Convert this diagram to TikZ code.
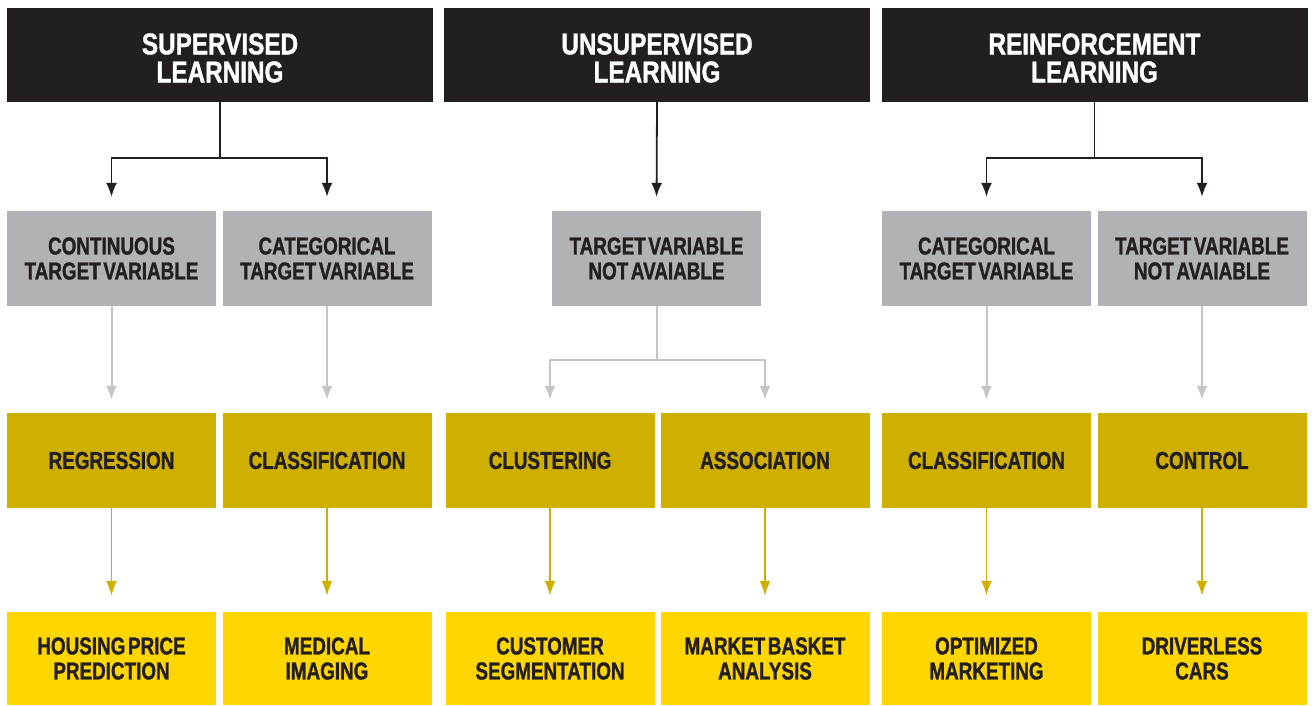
\documentclass[tikz,border=0pt]{standalone}
\usepackage{fontspec}
\setmainfont{Liberation Sans}[FakeStretch=0.77,WordSpace=0.5,BoldFeatures={FakeBold=1.2}]
\newfontfamily\titlefont{Liberation Sans}[FakeStretch=0.81,WordSpace=0.5,BoldFeatures={FakeBold=1.2}]
\usetikzlibrary{arrows.meta}
\definecolor{ink}{HTML}{231F20}
\definecolor{graybox}{HTML}{B1B2B5}
\definecolor{mustard}{HTML}{CFB000}
\definecolor{yell}{HTML}{FFD600}
\definecolor{grayline}{HTML}{C4C5C8}
\tikzset{
  x=1pt,y=-1pt,
  box/.style={rectangle,inner sep=0pt,align=center,text=ink,
    font=\fontsize{24.5}{25}\selectfont\bfseries},
  titlebox/.style={rectangle,inner sep=0pt,fill=ink,minimum width=426pt,minimum height=94pt},
  titletext/.style={inner sep=0pt,align=center,text=white,
    font=\titlefont\fontsize{30}{28}\selectfont\bfseries},
  graynode/.style={box,fill=graybox,minimum width=209pt,minimum height=95pt},
  mustnode/.style={box,fill=mustard,minimum width=209pt,minimum height=95pt},
  yellnode/.style={box,fill=yell,minimum width=209pt,minimum height=93pt},
  blkarrow/.style={draw=ink,line width=1.8pt,-{Latex[length=14pt,width=11pt]},shorten >=14pt},
  blkline/.style={draw=ink,line width=1.8pt},
  grayarrow/.style={draw=grayline,line width=2pt,-{Latex[length=14pt,width=11pt]},shorten >=13pt},
  grayline/.style={draw=grayline,line width=2pt},
  mustarrow/.style={draw=mustard,line width=1.8pt,-{Latex[length=15pt,width=11pt]},shorten >=16pt},
}
\begin{document}
\begin{tikzpicture}
\useasboundingbox[fill=white] (0,0) rectangle (1312,705);
% titles
\node[titlebox] (t1) at (220,55) {};
\node[titlebox] (t2) at (657,55) {};
\node[titlebox] (t3) at (1094.5,55) {};
\node[titletext] (t1l) at ([yshift=-3pt]t1.center) {SUPERVISED\\LEARNING};
\node[titletext] (t2l) at ([yshift=-3pt]t2.center) {UNSUPERVISED\\LEARNING};
\node[titletext] (t3l) at ([yshift=-3pt]t3.center) {REINFORCEMENT\\LEARNING};
% gray row
\node[graynode] (g1a) at (111.5,258.5) {CONTINUOUS\\TARGET VARIABLE};
\node[graynode] (g1b) at (327,258.5) {CATEGORICAL\\TARGET VARIABLE};
\node[graynode] (g2) at (656.5,258.5) {TARGET VARIABLE\\NOT AVAIABLE};
\node[graynode] (g3a) at (986.5,258.5) {CATEGORICAL\\TARGET VARIABLE};
\node[graynode] (g3b) at (1202,258.5) {TARGET VARIABLE\\NOT AVAIABLE};
% mustard row
\node[mustnode] (m1a) at (111.5,460.5) {REGRESSION};
\node[mustnode] (m1b) at (327,460.5) {CLASSIFICATION};
\node[mustnode] (m2a) at (550,460.5) {CLUSTERING};
\node[mustnode] (m2b) at (765,460.5) {ASSOCIATION};
\node[mustnode] (m3a) at (986.5,460.5) {CLASSIFICATION};
\node[mustnode] (m3b) at (1202,460.5) {CONTROL};
% yellow row
\node[yellnode] (y1a) at (111.5,658.5) {HOUSING PRICE\\PREDICTION};
\node[yellnode] (y1b) at (327,658.5) {MEDICAL\\IMAGING};
\node[yellnode] (y2a) at (550,658.5) {CUSTOMER\\SEGMENTATION};
\node[yellnode] (y2b) at (765,658.5) {MARKET BASKET\\ANALYSIS};
\node[yellnode] (y3a) at (986.5,658.5) {OPTIMIZED\\MARKETING};
\node[yellnode] (y3b) at (1202,658.5) {DRIVERLESS\\CARS};
% black connectors
\coordinate (j1) at (220,158);
\coordinate (j3) at (1094.5,158);
\draw[blkline] (t1.south) -- (j1);
\draw[blkarrow] (j1) -| (g1a.north);
\draw[blkarrow] (j1) -| (g1b.north);
\draw[blkarrow] (t2.south) -- (g2.north);
\draw[blkline] (t3.south) -- (j3);
\draw[blkarrow] (j3) -| (g3a.north);
\draw[blkarrow] (j3) -| (g3b.north);
% gray connectors
\coordinate (j2) at (656.5,360);
\draw[grayarrow] (g1a.south) -- (m1a.north);
\draw[grayarrow] (g1b.south) -- (m1b.north);
\draw[grayline] (g2.south) -- (j2);
\draw[grayarrow] (j2) -| (m2a.north);
\draw[grayarrow] (j2) -| (m2b.north);
\draw[grayarrow] (g3a.south) -- (m3a.north);
\draw[grayarrow] (g3b.south) -- (m3b.north);
% mustard connectors
\draw[mustarrow] (m1a.south) -- (y1a.north);
\draw[mustarrow] (m1b.south) -- (y1b.north);
\draw[mustarrow] (m2a.south) -- (y2a.north);
\draw[mustarrow] (m2b.south) -- (y2b.north);
\draw[mustarrow] (m3a.south) -- (y3a.north);
\draw[mustarrow] (m3b.south) -- (y3b.north);
\end{tikzpicture}
\end{document}
